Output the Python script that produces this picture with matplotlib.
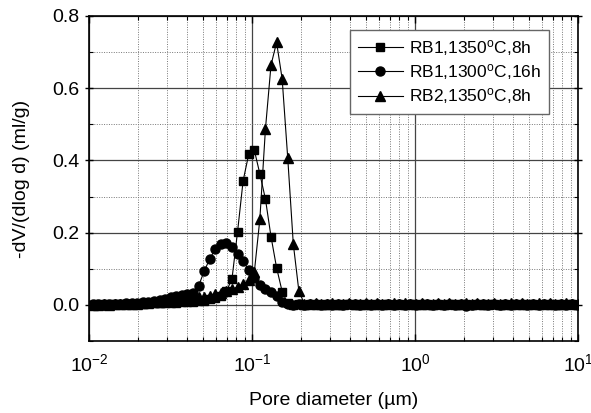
import matplotlib
matplotlib.use("Agg")
from matplotlib import pyplot as plt
from matplotlib.ticker import LogLocator, FixedLocator
import numpy as np

plt.rcParams['font.family'] = ['Liberation Sans', 'DejaVu Sans']
plt.rcParams['mathtext.fontset'] = 'custom'
plt.rcParams['mathtext.rm'] = 'Liberation Sans'
plt.rcParams['mathtext.it'] = 'Liberation Sans:italic'

# pore diameters (um), shared by the three samples
pore_d = [0.01052, 0.01139, 0.01232, 0.01333, 0.01442, 0.01560, 0.01688, 0.01827, 0.01976, 0.02138,
          0.02313, 0.02503, 0.02708, 0.02930, 0.03170, 0.03430, 0.03711, 0.04015, 0.04344, 0.04699,
          0.05084, 0.05500, 0.05951, 0.06439, 0.06966, 0.07537, 0.08155, 0.08823, 0.09546, 0.1033,
          0.1117, 0.1209, 0.1308, 0.1415, 0.1531, 0.1657, 0.1792, 0.1939, 0.2098, 0.2270,
          0.2456, 0.2657, 0.2875, 0.3110, 0.3365, 0.3641, 0.3940, 0.4263, 0.4611, 0.4989,
          0.5398, 0.5840, 0.6318, 0.6836, 0.7396, 0.8002, 0.8658, 0.9368, 1.013, 1.097,
          1.186, 1.284, 1.389, 1.503, 1.626, 1.759, 1.903, 2.059, 2.228, 2.410,
          2.608, 2.821, 3.052, 3.303, 3.573, 3.865, 4.182, 4.526, 4.896, 5.297,
          5.731, 6.200, 6.708, 7.258, 7.852, 8.496, 9.192, 9.945]

rb1_1350_8h = [0.001, 0.002, 0.001, 0.002, 0.002, 0.002, 0.003, 0.003, 0.003, 0.003,
               0.004, 0.004, 0.004, 0.005, 0.005, 0.006, 0.007, 0.008, 0.009, 0.010,
               0.012, 0.015, 0.019, 0.025, 0.038, 0.072, 0.203, 0.344, 0.417, 0.429,
               0.363, 0.293, 0.189, 0.103, 0.037, 0.004, 0.001, 0.002, 0.001, 0.002,
               0.001, 0.003, 0.001, 0.002, 0.001, 0.002, 0.003, 0.001, 0.002, 0.001,
               0.002, 0.001, 0.003, 0.002, 0.001, 0.002, 0.001, 0.002, 0.003, 0.001,
               0.002, 0.001, 0.002, 0.001, 0.003, 0.002, 0.001, 0.002, 0.001, 0.002,
               0.001, 0.002, 0.003, 0.001, 0.002, 0.001, 0.002, 0.001, 0.003, 0.002,
               0.001, 0.002, 0.001, 0.002, 0.001, 0.003, 0.002, 0.001]

rb1_1300_16h = [0.002, 0.003, 0.002, 0.003, 0.003, 0.003, 0.004, 0.004, 0.006, 0.007,
                0.009, 0.011, 0.014, 0.017, 0.021, 0.024, 0.027, 0.030, 0.034, 0.052,
                0.093, 0.127, 0.155, 0.168, 0.171, 0.160, 0.140, 0.121, 0.097, 0.075,
                0.056, 0.044, 0.036, 0.024, 0.008, 0.002, 0.001, 0.002, 0.001, 0.002,
                0.003, 0.001, 0.002, 0.001, 0.002, 0.001, 0.002, 0.003, 0.001, 0.002,
                0.001, 0.002, 0.001, 0.003, 0.001, 0.002, 0.001, 0.002, 0.001, 0.002,
                0.003, 0.001, 0.002, 0.001, 0.002, 0.001, 0.002, -0.002, 0.001, 0.002,
                0.003, 0.001, 0.002, 0.001, 0.002, 0.001, 0.002, 0.003, 0.001, 0.002,
                0.001, 0.002, 0.003, 0.001, 0.002, 0.001, 0.002, 0.001]

rb2_1350_8h = [0.001, 0.001, 0.002, 0.001, 0.002, 0.002, 0.002, 0.003, 0.003, 0.004,
               0.005, 0.007, 0.008, 0.010, 0.012, 0.013, 0.015, 0.017, 0.019, 0.021,
               0.023, 0.026, 0.029, 0.033, 0.038, 0.043, 0.050, 0.058, 0.068, 0.090,
               0.237, 0.487, 0.664, 0.727, 0.626, 0.406, 0.169, 0.038, 0.003, 0.002,
               0.004, 0.002, 0.003, 0.005, 0.002, 0.003, 0.004, 0.002, 0.003, 0.005,
               0.002, 0.004, 0.003, 0.002, 0.004, 0.003, 0.005, 0.002, 0.003, 0.004,
               0.002, 0.003, 0.005, 0.002, 0.004, 0.003, 0.002, 0.004, 0.003, 0.005,
               0.002, 0.003, 0.004, 0.002, 0.003, 0.005, 0.002, 0.004, 0.003, 0.002,
               0.004, 0.003, 0.005, 0.002, 0.003, 0.004, 0.002, 0.003]

labels = ['RB1,1350$^{\\mathrm{o}}$C,8h', 'RB1,1300$^{\\mathrm{o}}$C,16h', 'RB2,1350$^{\\mathrm{o}}$C,8h']

fig = plt.figure(figsize=(5.91, 4.13), dpi=100)
ax = fig.add_axes([0.1506, 0.1743, 0.8274, 0.787])

ax.plot(pore_d, rb1_1350_8h, '-s', color='black', lw=0.8, ms=6, label=labels[0])
ax.plot(pore_d, rb1_1300_16h, '-o', color='black', lw=0.8, ms=6.5, label=labels[1])
ax.plot(pore_d, rb2_1350_8h, '-^', color='black', lw=0.8, ms=7.5, label=labels[2])

ax.set_xscale('log')
ax.set_xlim(0.01, 10)
ax.set_ylim(-0.1, 0.8)
ax.xaxis.set_major_locator(LogLocator(base=10, numticks=10))
ax.xaxis.set_minor_locator(LogLocator(base=10, subs=np.arange(2, 10), numticks=20))
ax.yaxis.set_major_locator(FixedLocator([0.0, 0.2, 0.4, 0.6, 0.8]))
ax.yaxis.set_minor_locator(FixedLocator([-0.1, 0.1, 0.3, 0.5, 0.7]))
ax.yaxis.set_major_formatter(plt.FuncFormatter(lambda v, p: f"{v:.1f}"))

ax.grid(which='major', color='#444444', lw=0.9, ls='-')
ax.grid(which='minor', color='#777777', lw=0.7, ls=(0, (1, 1.5)))
ax.set_axisbelow(True)

ax.tick_params(which='both', direction='in', top=True, right=True, labelsize=14)
ax.tick_params(which='major', length=5, width=1)
ax.tick_params(which='minor', length=3, width=0.8)
ax.tick_params(axis='y', which='major', left=True, direction='inout', length=6, pad=4)
ax.tick_params(axis='x', pad=9)
for s in ax.spines.values():
    s.set_linewidth(1.2)

ax.set_xlabel('Pore diameter (µm)', fontsize=14, labelpad=12)
ax.set_ylabel('-dV/(dlog d) (ml/g)', fontsize=14, labelpad=16)

leg = ax.legend(loc='upper right', bbox_to_anchor=(0.94, 0.957), borderaxespad=0, fontsize=12.5,
                fancybox=False, framealpha=1, edgecolor='#666666',
                handlelength=2.6, handletextpad=0.35, borderpad=0.45, labelspacing=0.25)
leg.get_frame().set_linewidth(1.0)

plt.savefig('out.png', dpi=100)
